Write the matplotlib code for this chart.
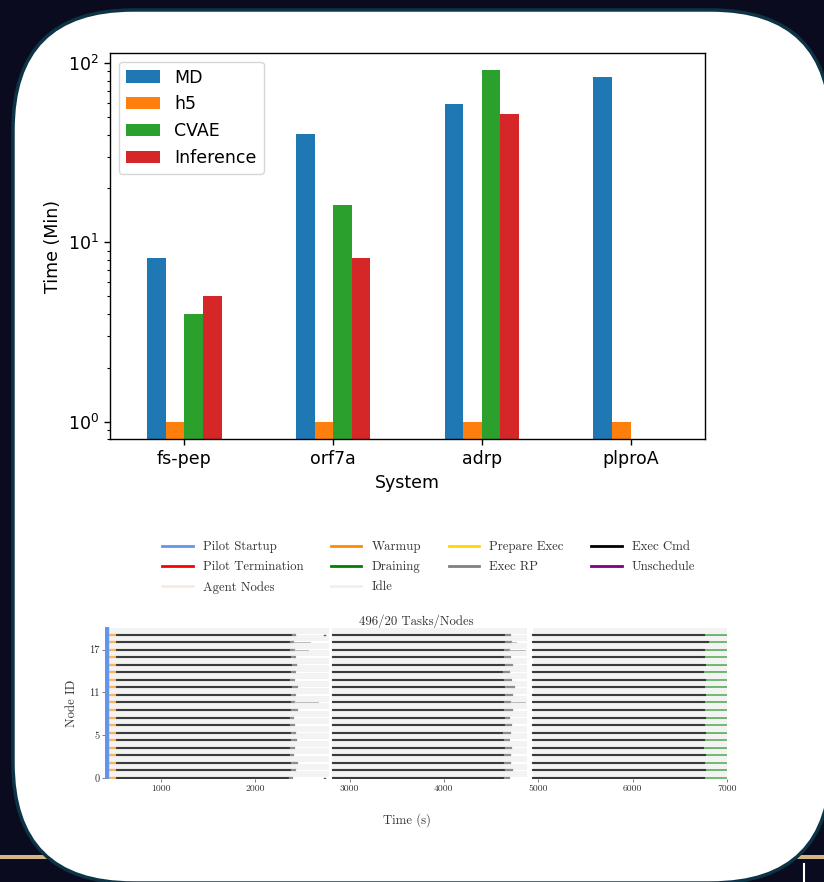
import numpy as np
import matplotlib
matplotlib.use('Agg')
import matplotlib.pyplot as plt
from matplotlib.patches import FancyBboxPatch
from matplotlib.lines import Line2D

plt.rcParams['axes.formatter.use_mathtext'] = True

# bar chart values (minutes, log scale)
systems = ['fs-pep', 'orf7a', 'adrp', 'plproA']
md = [8.2, 40.5, 59.5, 83.5]
h5 = [1.0, 1.0, 1.0, 1.0]
cvae = [4.0, 16.2, 91.5, np.nan]
inference = [5.05, 8.2, 52.0, np.nan]
bar_names = ['MD', 'h5', 'CVAE', 'Inference']
bar_colors = ['#1f77b4', '#ff7f0e', '#2ca02c', '#d62728']

# timeline values (seconds), node 0 at the bottom
n_nodes = 20
pilot_startup = (300, 440)
warmup = (455, 530)
idle_spans = [(440, 2785), (2815, 4880), (4942, 7000)]
seg_starts = [537, 2821, 4945]
seg1_cmd_end = [2350, 2368, 2372, 2362, 2358, 2370, 2366, 2360, 2356, 2374,
                2366, 2369, 2376, 2362, 2370, 2375, 2368, 2360, 2364, 2378]
seg1_rp_end = [2395, 2420, 2440, 2405, 2415, 2430, 2425, 2410, 2400, 2445,
               2415, 2420, 2440, 2410, 2425, 2435, 2420, 2410, 2400, 2420]
seg2_cmd_end = [4625, 4640, 4630, 4622, 4635, 4628, 4620, 4632, 4638, 4626,
                4630, 4640, 4636, 4628, 4620, 4634, 4630, 4625, 4638, 4632]
seg2_rp_end = [4690, 4720, 4705, 4700, 4715, 4690, 4700, 4710, 4695, 4720,
               4700, 4725, 4740, 4710, 4695, 4720, 4700, 4690, 4715, 4700]
seg3_cmd_end = [6755, 6770, 6760, 6765, 6750, 6758, 6762, 6755, 6768, 6760,
                6752, 6764, 6758, 6762, 6750, 6766, 6760, 6755, 6800, 6758]
drain_end = 7000
straggler_nodes = [10, 17, 18]
straggler1_end = [2670, 2565, 2580]
straggler2_end = [4860, 4860, 4760]
dot_nodes = [0, 19]
dot_time = 2730

W, H = 824, 882
fig = plt.figure(figsize=(W / 100, H / 100), dpi=100, facecolor='#0b0b1f')

# slide background
bg = fig.add_axes([0, 0, 1, 1])
bg.set_xlim(0, W)
bg.set_ylim(H, 0)
bg.axis('off')
bg.set_facecolor('#0b0b1f')
bg.plot([0, W], [857, 857], color='#d6b585', lw=2.9, zorder=1)
bg.plot([804, 804], [864, 882], color='white', lw=1.5, zorder=1)
card = FancyBboxPatch((13, 10), 818, 873, boxstyle='round,pad=0,rounding_size=120',
                      fc='white', ec='#0c3446', lw=2.5, zorder=2)
bg.add_patch(card)

# ---- upper bar chart
ax = fig.add_axes([110 / W, 1 - 439 / H, 595 / W, 386 / H])
x = np.arange(len(systems))
w = 0.125
for k, vals in enumerate([md, h5, cvae, inference]):
    ax.bar(x + (k - 1.5) * w, vals, w, color=bar_colors[k], label=bar_names[k])
ax.set_yscale('log')
ax.set_ylim(0.80, 114)
ax.set_xlim(-0.5, 3.5)
ax.set_xticks(x, systems)
ax.tick_params(labelsize=12.5, length=4.4, width=1.0)
ax.tick_params(which='minor', length=2.5, width=0.8)
for s in ax.spines.values():
    s.set_linewidth(1.0)
ax.set_xlabel('System', fontsize=12.5)
ax.set_ylabel('Time (Min)', fontsize=12.5)
ax.legend(loc='upper left', fontsize=12.5)

# ---- lower timeline chart
cm = 'cmr10'
tl = fig.add_axes([105 / W, 1 - 779 / H, 622 / W, 152 / H])
tl.set_xlim(409, 7000)
tl.set_ylim(-0.15, 20)
for i in range(n_nodes):
    tl.broken_barh([(a, b - a) for a, b in idle_spans], (i + 0.1, 0.8),
                   facecolors='#f3f3f3', zorder=1)
tl.axvspan(pilot_startup[0], pilot_startup[1], color='cornflowerblue', zorder=3)
for i in range(n_nodes):
    tl.plot(warmup, [i, i], color='darkorange', lw=1.6, alpha=0.65, zorder=2)
    rp = [(seg_starts[0], seg1_rp_end[i]), (seg_starts[1], seg2_rp_end[i]),
          (seg_starts[2], seg3_cmd_end[i])]
    cmd = [(seg_starts[0], seg1_cmd_end[i]), (seg_starts[1], seg2_cmd_end[i]),
           (seg_starts[2], seg3_cmd_end[i])]
    for a, b in rp:
        tl.plot([a, b], [i, i], color='#8c8c8c', lw=1.6, zorder=2)
    for a, b in cmd:
        tl.plot([a, b], [i, i], color='#333333', lw=1.3, zorder=3)
    tl.plot([seg3_cmd_end[i], drain_end], [i, i], color='green', lw=1.3,
            alpha=0.6, zorder=2)
for n, e1, e2 in zip(straggler_nodes, straggler1_end, straggler2_end):
    tl.plot([seg1_rp_end[n], e1], [n, n], color='#b0b0b0', lw=0.6, zorder=2)
    tl.plot([seg2_rp_end[n], e2], [n, n], color='#b0b0b0', lw=0.6, zorder=2)
for n in dot_nodes:
    tl.plot([dot_time, dot_time + 15], [n, n], color='#555555', lw=1.0, zorder=3)

for s in tl.spines.values():
    s.set_visible(False)
tl.set_xticks([1000, 2000, 3000, 4000, 5000, 6000, 7000])
tl.set_xticklabels(['1000', '2000', '3000', '4000', '5000', '6000', '7000'],
                   family=cm, fontsize=7, color='#333333')
tl.set_yticks([0, 17 / 3, 34 / 3, 17])
tl.set_yticklabels(['0', '5', '11', '17'], family=cm, fontsize=7.5, color='#333333')
tl.tick_params(length=2, width=0.6, color='#666666', pad=2)
fig.text(416 / W, 1 - 621 / H, '496/20 Tasks/Nodes', family=cm, fontsize=9.2,
         ha='center', va='center', color='#333333')
fig.text(72 / W, 1 - 703 / H, 'Node ID', family=cm, fontsize=9.2, rotation=90,
         ha='center', va='center', color='#333333')
fig.text(407 / W, 1 - 820 / H, 'Time (s)', family=cm, fontsize=9.2,
         ha='center', va='center', color='#333333')

leg_labels = ['Pilot Startup', 'Pilot Termination', 'Agent Nodes',
              'Warmup', 'Draining', 'Idle',
              'Prepare Exec', 'Exec RP',
              'Exec Cmd', 'Unschedule']
leg_colors = ['cornflowerblue', 'red', '#f7ebe0',
              'darkorange', 'green', '#f0f0f0',
              'gold', 'gray',
              'black', 'purple']
handles = [Line2D([], [], color=c, lw=2) for c in leg_colors]
fig.legend(handles, leg_labels, loc='center', bbox_to_anchor=(428.7 / W, 1 - 567.5 / H),
           ncol=4, frameon=False, prop={'family': cm, 'size': 9.2},
           handlelength=2.4, handletextpad=0.8, columnspacing=2.14,
           labelspacing=0.62, labelcolor='#333333')

fig.savefig('out.png', dpi=100, facecolor=fig.get_facecolor())
